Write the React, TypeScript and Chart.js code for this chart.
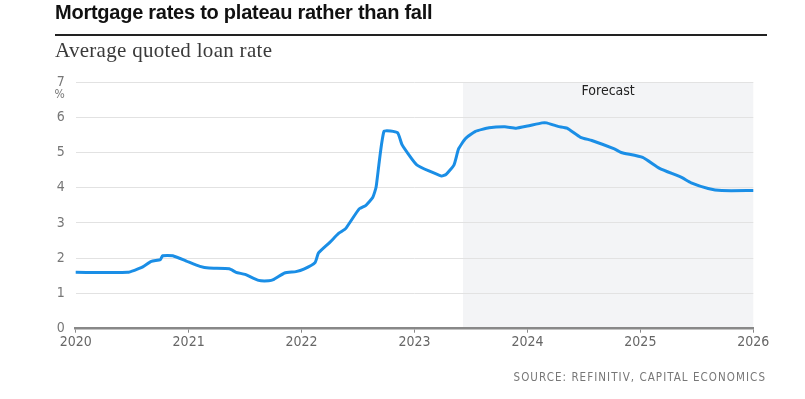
import React, { useEffect, useRef } from "react";
import { Chart, registerables } from "chart.js";

Chart.register(...registerables);

// Decimal-year dates and average quoted mortgage rates (%)
const dates: number[] = [
  2020.0, 2020.46, 2020.58, 2020.67, 2020.75, 2020.77, 2020.86, 2020.98,
  2021.1, 2021.18, 2021.36, 2021.42, 2021.5, 2021.62, 2021.71, 2021.75,
  2021.85, 2021.95, 2022.02, 2022.12, 2022.15, 2022.25, 2022.33, 2022.39,
  2022.51, 2022.57, 2022.63, 2022.66, 2022.73, 2022.85, 2022.89, 2023.02,
  2023.24, 2023.28, 2023.35, 2023.39, 2023.45, 2023.54, 2023.66, 2023.8,
  2023.9, 2024.0, 2024.13, 2024.17, 2024.27, 2024.35, 2024.47, 2024.57,
  2024.77, 2024.83, 2025.02, 2025.17, 2025.36, 2025.45, 2025.6, 2025.72,
  2026.0,
];
const rates: number[] = [
  1.6, 1.6, 1.73, 1.91, 1.96, 2.07, 2.07, 1.92,
  1.77, 1.72, 1.7, 1.6, 1.54, 1.37, 1.36, 1.39,
  1.58, 1.62, 1.69, 1.88, 2.15, 2.45, 2.71, 2.84,
  3.4, 3.5, 3.72, 4.02, 5.6, 5.56, 5.22, 4.65,
  4.33, 4.38, 4.65, 5.1, 5.39, 5.6, 5.7, 5.73,
  5.69, 5.75, 5.84, 5.84, 5.74, 5.69, 5.43, 5.34,
  5.1, 5.0, 4.86, 4.55, 4.3, 4.14, 3.98, 3.92,
  3.92,
];
const xTicks: number[] = [2020, 2021, 2022, 2023, 2024, 2025, 2026];
const yTicks: number[] = [0, 1, 2, 3, 4, 5, 6, 7];
const forecastStart = 2023.43;
const forecastEnd = 2026;
const forecastLabel = "Forecast";

const TICK_FONT = "'Liberation Sans Narrow', 'DejaVu Sans Condensed', Roboto, sans-serif";

const forecastPlugin = {
  id: "forecastBand",
  beforeDraw(chart: any) {
    const { ctx, chartArea, scales } = chart;
    const x0 = scales.x.getPixelForValue(forecastStart);
    const x1 = scales.x.getPixelForValue(forecastEnd);
    ctx.save();
    ctx.fillStyle = "#f3f4f6";
    ctx.fillRect(x0, chartArea.top, x1 - x0, chartArea.bottom - chartArea.top);
    ctx.restore();
  },
  afterDraw(chart: any) {
    const { ctx, chartArea, scales } = chart;
    const x0 = scales.x.getPixelForValue(forecastStart);
    const x1 = scales.x.getPixelForValue(forecastEnd);
    ctx.save();
    ctx.fillStyle = "#222";
    ctx.font = `14px ${TICK_FONT}`;
    ctx.textAlign = "center";
    ctx.textBaseline = "middle";
    ctx.fillText(forecastLabel, (x0 + x1) / 2, chartArea.top + 9);
    ctx.fillStyle = "#777";
    ctx.font = `12px ${TICK_FONT}`;
    ctx.textAlign = "right";
    ctx.fillText("%", chartArea.left - 11, scales.y.getPixelForValue(7) + 13);
    ctx.restore();
  },
};

export default function App() {
  const ref = useRef<HTMLCanvasElement | null>(null);

  useEffect(() => {
    if (!ref.current) return;
    const chart = new Chart(ref.current, {
      type: "line",
      data: {
        datasets: [
          {
            data: dates.map((d, i) => ({ x: d, y: rates[i] })),
            borderColor: "#1a8ee6",
            borderWidth: 3,
            pointRadius: 0,
            tension: 0.15,
            borderJoinStyle: "round",
            borderCapStyle: "round",
          },
        ],
      },
      options: {
        responsive: false,
        animation: false,
        layout: { padding: { left: 0, right: 51.7, top: 82, bottom: 40.3 } },
        plugins: { legend: { display: false }, tooltip: { enabled: false } },
        scales: {
          x: {
            type: "linear",
            min: 2020,
            max: 2026,
            afterBuildTicks: (s: any) => {
              s.ticks = xTicks.map((v) => ({ value: v }));
            },
            afterFit: (s: any) => {
              s.height = 30;
            },
            ticks: {
              callback: (v: any) => String(v),
              color: "#666",
              font: { family: TICK_FONT, size: 14 },
              padding: 1,
              maxRotation: 0,
            },
            grid: {
              display: true,
              drawOnChartArea: false,
              drawTicks: true,
              tickLength: 4,
              tickColor: "#888",
              tickWidth: 1,
            },
            border: { display: true, color: "#888", width: 2.5 },
          },
          y: {
            min: 0,
            max: 7,
            afterBuildTicks: (s: any) => {
              s.ticks = yTicks.map((v) => ({ value: v }));
            },
            afterFit: (s: any) => {
              s.width = 75.7;
            },
            ticks: {
              color: "#777",
              font: { family: TICK_FONT, size: 14 },
              padding: 11,
            },
            grid: { color: "#e2e2e2", lineWidth: 1, drawTicks: false },
            border: { display: false },
          },
        },
      },
      plugins: [forecastPlugin],
    } as any);
    return () => chart.destroy();
  }, []);

  return (
    <div style={{ position: "absolute", left: 0, top: 0, width: 805, height: 399, background: "#fff" }}>
      <canvas ref={ref} width={805} height={399} style={{ position: "absolute", left: 0, top: 0 }} />
      <div
        style={{
          position: "absolute",
          left: 55,
          top: 1,
          fontFamily: "'Liberation Sans', Arial, sans-serif",
          fontWeight: 700,
          fontSize: 20,
          color: "#111",
          whiteSpace: "nowrap",
          letterSpacing: -0.25,
        }}
      >
        Mortgage rates to plateau rather than fall
      </div>
      <div style={{ position: "absolute", left: 55, top: 34, width: 712, height: 1.5, background: "#222" }} />
      <div
        style={{
          position: "absolute",
          left: 55,
          top: 38,
          fontFamily: "'Liberation Serif', 'DejaVu Serif', serif",
          fontSize: 21,
          color: "#3a3a3a",
          whiteSpace: "nowrap",
          letterSpacing: 0.3,
        }}
      >
        Average quoted loan rate
      </div>
      <div
        style={{
          position: "absolute",
          right: 39,
          top: 370,
          fontFamily: TICK_FONT,
          fontSize: 11.5,
          color: "#777",
          letterSpacing: 1.05,
          whiteSpace: "nowrap",
        }}
      >
        SOURCE: REFINITIV, CAPITAL ECONOMICS
      </div>
    </div>
  );
}
